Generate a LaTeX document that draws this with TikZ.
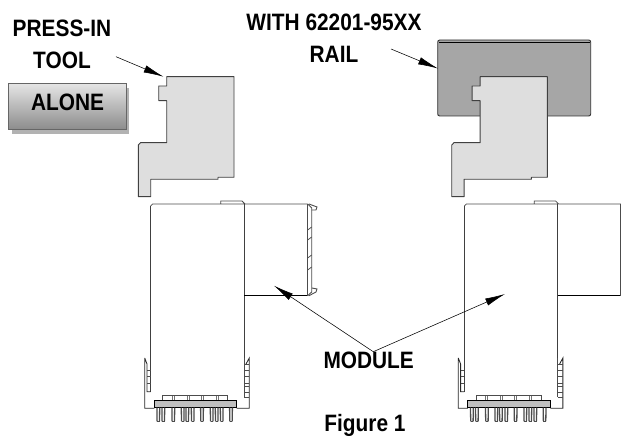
\documentclass[tikz,border=0pt]{standalone}
\usepackage{fontspec}
\setmainfont{Liberation Sans}[FakeStretch=0.88]
\usetikzlibrary{arrows.meta}
\tikzset{
 x=1pt,y=-1pt,
 outline/.style={draw=black!75,line width=0.9pt,line join=round},
 thin part/.style={draw=black!70,line width=0.75pt},
 callout/.style={draw=black,line width=0.55pt,-{Latex[length=20pt,width=7.5pt]}},
 lbl/.style={font=\fontsize{23.7}{26}\selectfont\bfseries,align=center,inner sep=0pt,text=black}
}
\newcommand{\toolshape}{(166.7,76.7) -- (234,76.7) -- (234,177.3) -- (218,177.3) -- (218,179.3) -- (150.7,179.3) -- (150.7,196.7) -- (138.3,196.7) -- (138.3,145) -- (140.5,142.7) -- (166.7,142.7) -- (166.7,100.7) -- (158.7,100.7) -- (158.7,86) -- (166.7,86) -- cycle}
\newcommand{\modbody}{
 \draw[thin part] (150.7,206) -- (152.7,204) -- (244,204) (220.7,204) -- (220.7,201) -- (242,201) -- (245,204) -- (307.7,204);
 \draw[outline] (150.7,206) -- (150.7,391.7);
 \draw[outline] (244,204) -- (244,358);
 \draw[outline,draw=black] (244,295.7) -- (307.7,295.7);
 \draw[thin part,draw=black!85,line width=0.85pt] (144.7,358) -- (144.7,408.3) -- (154.3,408.3) (236.7,408.3) -- (249.3,408.3) -- (249.3,358) -- (246,364) (144.7,358) -- (147,364) -- (147,391.7) -- (150.7,391.7);
 \draw[thin part] (147,370) -- (150.7,370) (147,376) -- (150.7,376) (147,383) -- (150.7,383);
 \draw[thin part] (244,364) -- (249,364) (244,370) -- (249,370) (244,376) -- (249,376) (244,383) -- (249,383) (244,386) -- (249,386) (244,392) -- (249,392) (244,397) -- (249,397) (244,358) -- (244,397);
 \draw[thin part] (162.3,400.7) -- (162.3,395.7) -- (227.3,395.7) -- (227.3,400.7);
 \foreach \px in {172,174,187,189,201,203,216,218}{\draw[draw=black!55,line width=0.5pt] (\px,395.7) -- (\px,400.7);}
 \draw[draw=black,line width=0.9pt,fill=black!25] (154.3,400.7) rectangle (236.7,407.6);
 \foreach \px in {158.3,163.3,173.3,182.7,187.3,192.7,202,211.7,216.7,221.7,231}{
   \draw[draw=black!70,line width=1.3pt,line cap=round] (\px-1.4,408) -- (\px-1.2,421) (\px+1.4,408) -- (\px+1.2,421);
   \draw[draw=black!70,line width=.8pt] (\px-1.2,421.8) -- (\px+1.2,421.8);
 }
}
\begin{document}
\begin{tikzpicture}
\useasboundingbox (0,0) rectangle (621,443);
% left tool
\filldraw[outline,fill=black!13] \toolshape;
% rail
\filldraw[draw=black!80,line width=0.9pt,fill=black!35,rounded corners=2pt] (437.7,40) rectangle (590.7,116);
\draw[draw=black,line width=0.8pt] (439,42) -- (589.5,42);
% right tool
\begin{scope}[xshift=313.4pt]
\filldraw[outline,fill=black!13] \toolshape;
\end{scope}
% left module
\modbody
\draw[thin part] (307.7,204) -- (307.7,295.7);
\draw[thin part,line width=0.9pt] (307.7,204) -- (311.7,208) -- (311.7,292) -- (307.7,295.7);
\draw[thin part,line width=0.9pt] (309,204) -- (317,207) -- (316,210) -- (311.7,210) (309,295.7) -- (316,292) -- (317,289) -- (312,288);
\foreach \py in {230,240,258,270}{\draw[thin part] (307.7,\py) -- (311.7,\py-3);}
% right module
\begin{scope}[xshift=313.6pt]
\modbody
\draw[thin part,line width=1pt] (306.8,204) -- (306.8,295.7);
\end{scope}
% labels
\node[lbl] (press) at (62,28.5) {PRESS-IN};
\node[lbl] (tool) at (62,60) {TOOL};
\node[lbl] (rail1) at (334,22) {WITH 62201-95XX};
\node[lbl] (rail2) at (334,54) {RAIL};
\fill[black!30] (12,88) rectangle (128.7,133.6);
\shade[top color=white!90!black,bottom color=black!45,draw=black!60,line width=1.3pt] (8.3,83.3) rectangle (126.7,129.3);
\node[lbl] (alone) at (67.5,102) {ALONE};
\node[lbl] (module) at (368.7,360) {MODULE};
\node[lbl] (figure) at (365,425.5) {Figure 1};
% arrows
\coordinate (a1s) at (116,56.7); \coordinate (a1e) at (163.5,76.7);
\coordinate (a2s) at (391,49); \coordinate (a2e) at (438,68.5);
\coordinate (a3s) at (373.3,351.7); \coordinate (a3e) at (274,285.7);
\coordinate (a4e) at (505,294);
\draw[callout] (a1s) -- (a1e);
\draw[callout] (a2s) -- (a2e);
\draw[callout] (a3s) -- (a3e);
\draw[callout] (a3s) -- (a4e);
\end{tikzpicture}
\end{document}
